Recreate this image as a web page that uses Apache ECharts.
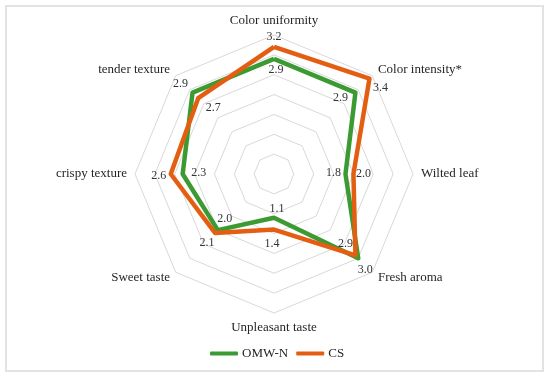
<!DOCTYPE html>
<html>
<head>
<meta charset="utf-8">
<script src="https://cdn.jsdelivr.net/npm/echarts@6/dist/echarts.min.js"></script>
<style>html,body{margin:0;padding:0;background:#fff}#c{width:550px;height:378px}</style>
</head>
<body>
<div id="c"></div>
<script>
// Categories in clockwise order starting from top
var categories = ['Color uniformity', 'Color intensity*', 'Wilted leaf', 'Fresh aroma', 'Unpleasant taste', 'Sweet taste', 'crispy texture', 'tender texture'];
var seriesNames = ['OMW-N', 'CS'];
var omwN = [2.9, 2.9, 1.8, 3.0, 1.1, 2.0, 2.3, 2.9];
var cs   = [3.2, 3.4, 2.0, 2.9, 1.4, 2.1, 2.6, 2.7];
var axisMax = 3.5;

// label offsets (style only), per category, clockwise order
var offOMW = [[2,11],[-15,5],[-12,-1],[7,12],[3,-9],[7,-11],[16,-1],[-12,-9]];
var offCS  = [[0,-10],[11,9],[10,0],[-10,-12],[-2,14],[-8,10],[-12,2],[15,10]];

var colors = ['#3b9b32', '#e45e12'];
var FONT = 'Liberation Serif';

// ECharts radar places indicators counter-clockwise; reorder
var n = categories.length;
var order = [];
for (var k = 0; k < n; k++) order.push((n - k) % n);
function reorder(arr) { return order.map(function (i) { return arr[i]; }); }

var values = [omwN, cs];
var offs = [offOMW, offCS];

var series = [];
series.push({
  type: 'radar',
  symbol: 'none',
  data: values.map(function (v, s) {
    return {
      name: seriesNames[s],
      value: reorder(v),
      lineStyle: { color: colors[s], width: 4.5 },
      itemStyle: { color: colors[s] }
    };
  })
});
// label-only series
var lblData = [];
values.forEach(function (v, s) {
  var rv = reorder(v), ro = reorder(offs[s]);
  for (var i = 0; i < n; i++) {
    var arr = [];
    for (var j = 0; j < n; j++) arr.push(j === i ? rv[j] : -1);
    lblData.push({
      name: '_lbl',
      value: arr,
      label: { show: true, position: 'inside', offset: ro[i] }
    });
  }
});
series.push({
  type: 'radar',
  name: '_lbl',
  symbol: 'circle',
  symbolSize: 0,
  silent: true,
  lineStyle: { opacity: 0, width: 0 },
  areaStyle: { opacity: 0 },
  itemStyle: { color: 'transparent' },
  label: {
    show: true,
    color: '#333',
    fontFamily: FONT,
    fontSize: 12,
    formatter: function (p) { return p.value < 0 ? '' : Number(p.value).toFixed(1); }
  },
  data: lblData
});

var chart = echarts.init(document.getElementById('c'), null, { renderer: 'canvas' });
chart.setOption({
  animation: false,
  backgroundColor: '#fff',
  graphic: [{
    type: 'rect',
    shape: { x: 6, y: 6, width: 537, height: 365 },
    style: { fill: 'none', stroke: '#e3e3e3', lineWidth: 2 },
    silent: true
  }],
  legend: {
    data: seriesNames,
    bottom: 18,
    left: 210,
    icon: 'roundRect',
    itemWidth: 28,
    itemHeight: 4,
    itemGap: 8,
    padding: 0,
    textStyle: { fontFamily: FONT, fontSize: 13, color: '#262626', padding: [0,0,0,-1] }
  },
  radar: {
    center: [274, 174],
    radius: 139,
    shape: 'polygon',
    splitNumber: 7,
    startAngle: 90,
    indicator: reorder(categories).map(function (c) { return { name: c, min: 0, max: axisMax }; }),
    axisName: { color: '#262626', fontFamily: FONT, fontSize: 13 },
    nameGap: 8,
    axisLine: { show: false },
    axisTick: { show: false },
    axisLabel: { show: false },
    splitArea: { show: false },
    splitLine: { lineStyle: { color: '#d9d9d9', width: 1 } }
  },
  series: series
});
</script>
</body>
</html>
